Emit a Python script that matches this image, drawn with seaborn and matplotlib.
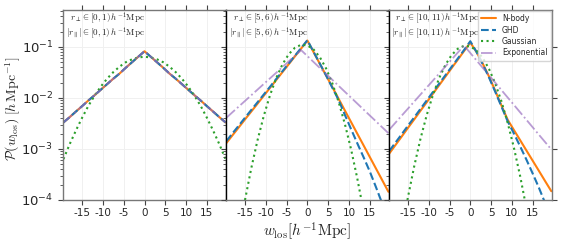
import matplotlib

matplotlib.use('Agg')
import matplotlib.pyplot as plt
import seaborn as sns
import numpy as np
from matplotlib.ticker import LogLocator, NullFormatter

# line-of-sight velocity bins (h^-1 Mpc), shared by every panel
W_LOS = [-19.5, -18.0, -16.5, -15.0, -13.5, -12.0, -10.5, -9.0, -7.5, -6.0, -4.5, -3.0, -1.5,
         0.0, 1.5, 3.0, 4.5, 6.0, 7.5, 9.0, 10.5, 12.0, 13.5, 15.0, 16.5, 18.0, 19.5]

# panel 1: r_perp in [0,1), |r_par| in [0,1)  (N-body, GHD and exponential overlap)
P1_NBODY = [0.0033, 0.0042, 0.0054, 0.0069, 0.0089, 0.0113, 0.0145, 0.0186, 0.0238, 0.030, 0.039, 0.050, 0.064,
            0.082, 0.064, 0.050, 0.039, 0.030, 0.0238, 0.0186, 0.0145, 0.0113, 0.0089, 0.0069, 0.0054, 0.0042, 0.0033]
P1_GHD = list(P1_NBODY)
P1_EXP = list(P1_NBODY)
P1_GAUSS = [0.00063, 0.00124, 0.0023, 0.0041, 0.0070, 0.0111, 0.0167, 0.0238, 0.032, 0.041, 0.050, 0.057, 0.062,
            0.064, 0.062, 0.057, 0.050, 0.041, 0.032, 0.0238, 0.0167, 0.0111, 0.0070, 0.0041, 0.0023, 0.00124, 0.00063]

# panel 2: r_perp in [5,6), |r_par| in [5,6)
P2_NBODY = [0.00130, 0.00186, 0.00265, 0.0038, 0.0054, 0.0077, 0.0110, 0.0157, 0.0224, 0.0320, 0.0456, 0.0652, 0.0929,
            0.133, 0.0785, 0.0465, 0.0275, 0.0163, 0.00962, 0.00569, 0.00337, 0.00199, 0.00118, 6.97e-4, 4.12e-4,
            2.44e-4, 1.44e-4]
P2_GHD = [0.00142, 0.00203, 0.00287, 0.0041, 0.0058, 0.0082, 0.01165, 0.0165, 0.0235, 0.0333, 0.0472, 0.0671, 0.0950,
          0.135, 0.0794, 0.0468, 0.0275, 0.0158, 0.00912, 0.00468, 0.00245, 0.00129, 6.92e-4, 3.63e-4, 1.78e-4,
          8.5e-5, 4.0e-5]
P2_GAUSS = [5.5e-7, 3.6e-6, 2.1e-5, 1.01e-4, 4.2e-4, 0.00148, 0.00442, 0.01127, 0.0245, 0.0454, 0.0716, 0.0962, 0.110,
            0.107, 0.0887, 0.0627, 0.0377, 0.0193, 0.00841, 0.00312, 9.9e-4, 2.65e-4, 6.1e-5, 1.2e-5, 2.0e-6,
            2.8e-7, 3.4e-8]
P2_EXP = [0.00407, 0.00526, 0.00678, 0.00873, 0.01127, 0.01452, 0.01875, 0.02415, 0.0311, 0.0402, 0.0518, 0.0668,
          0.0861, 0.0659, 0.0504, 0.0385, 0.0295, 0.0226, 0.01726, 0.01321, 0.01012, 0.00774, 0.00592, 0.00453,
          0.00347, 0.00265, 0.00203]

# panel 3: r_perp in [10,11), |r_par| in [10,11)
P3_NBODY = [8.11e-4, 0.00119, 0.00175, 0.00258, 0.00378, 0.00557, 0.00818, 0.01205, 0.0177, 0.0260, 0.0383, 0.0562,
            0.0828, 0.1216, 0.0794, 0.0468, 0.0263, 0.0138, 0.00708, 0.00372, 0.00234, 0.00148, 9.33e-4, 5.89e-4,
            3.72e-4, 2.34e-4, 1.48e-4]
P3_GHD = [9.10e-4, 0.00133, 0.00194, 0.00285, 0.00414, 0.00607, 0.00887, 0.0130, 0.0190, 0.0277, 0.0406, 0.0592,
          0.0867, 0.129, 0.0794, 0.0457, 0.0251, 0.0132, 0.00676, 0.00347, 0.00200, 0.00112, 6.17e-4, 3.31e-4,
          1.74e-4, 8.7e-5, 4.27e-5]
P3_GAUSS = [6.9e-7, 4.5e-6, 2.4e-5, 1.13e-4, 4.55e-4, 0.00156, 0.00455, 0.01135, 0.0243, 0.0443, 0.0690, 0.0920, 0.105,
            0.102, 0.0851, 0.0607, 0.0369, 0.0192, 0.00851, 0.00324, 0.00105, 2.92e-4, 6.9e-5, 1.4e-5, 2.4e-6,
            3.6e-7, 4.6e-8]
P3_EXP = [0.00238, 0.00327, 0.00449, 0.00615, 0.00845, 0.01159, 0.01592, 0.0218, 0.0299, 0.0411, 0.0564, 0.0774,
          0.1062, 0.0759, 0.0543, 0.0388, 0.0278, 0.0199, 0.0142, 0.01016, 0.00728, 0.0052, 0.00372, 0.00266,
          0.0019, 0.00136, 9.75e-4]

PANEL_BINS = ['[0,1)', '[5,6)', '[10,11)']
MODEL_NAMES = ['N-body', 'GHD', 'Gaussian', 'Exponential']
X_TICKS = [-15, -10, -5, 0, 5, 10, 15]


def setup_plotting():
    sns.set_style("ticks")
    plt.rcParams['font.family'] = ['DejaVu Sans']
    plt.rcParams['axes.unicode_minus'] = False
    plt.rcParams['mathtext.fontset'] = 'dejavusans'
    plt.ioff()


def main():
    setup_plotting()

    panels = [
        [P1_NBODY, P1_GHD, P1_GAUSS, P1_EXP],
        [P2_NBODY, P2_GHD, P2_GAUSS, P2_EXP],
        [P3_NBODY, P3_GHD, P3_GAUSS, P3_EXP],
    ]
    styles = {
        'N-body': dict(color='#ff7f0e', linestyle='-', linewidth=1.5, alpha=1.0),
        'GHD': dict(color='#1f77b4', linestyle='--', linewidth=1.5, alpha=1.0),
        'Gaussian': dict(color='#2ca02c', linestyle=':', linewidth=1.5, alpha=1.0),
        'Exponential': dict(color='#9467bd', linestyle='-.', linewidth=1.3, alpha=0.65),
    }
    # right edge of the bin annotation in axes fraction
    text_x = [0.503, 0.503, 0.552]

    fig, axes = plt.subplots(1, 3, figsize=(5.63, 2.48), dpi=100, sharey=True)
    fig.subplots_adjust(left=0.112, right=0.980, bottom=0.194, top=0.960, wspace=0)

    for i, ax in enumerate(axes):
        for name, values in zip(MODEL_NAMES, panels[i]):
            sns.lineplot(x=W_LOS, y=values, ax=ax, label=name, **styles[name])

        ax.set_yscale('log')
        ax.set_xlim(-19.6, 19.6)
        ax.set_ylim(1e-4, 0.53)
        ax.set_xticks(X_TICKS)
        ax.set_xticklabels([str(t) for t in X_TICKS], fontsize=7.5)
        ax.yaxis.set_major_locator(LogLocator(base=10, numticks=10))
        ax.yaxis.set_minor_locator(LogLocator(base=10, subs=np.arange(2, 10), numticks=20))
        ax.yaxis.set_minor_formatter(NullFormatter())
        ax.grid(True, which='major', color='#f0f0f0', linewidth=0.7)
        ax.set_axisbelow(True)

        ax.tick_params(axis='x', which='major', top=True, bottom=True, direction='out',
                       length=3.5, width=0.8, color='#444444', pad=2)
        ax.tick_params(axis='y', which='major', left=True, direction='out', length=3.5, width=0.8,
                       labelsize=9.5, color='#444444')
        ax.tick_params(axis='y', which='minor', left=True, direction='out', length=2, width=0.6,
                       color='#444444')
        for side in ['top', 'bottom', 'left', 'right']:
            ax.spines[side].set_visible(True)
            ax.spines[side].set_color('#777777')
            ax.spines[side].set_linewidth(1.0)
        if i > 0:
            ax.spines['left'].set_color('black')
            ax.tick_params(axis='y', which='both', labelleft=False)

        # bin annotation, two lines, right aligned
        b = PANEL_BINS[i]
        ax.text(text_x[i], 0.958, r'$r_\perp \in ' + b + r'\,h^{-1}\mathrm{Mpc}$',
                transform=ax.transAxes, ha='right', va='center', fontsize=6.5, math_fontfamily='cm')
        ax.text(text_x[i], 0.880, r'$|r_\parallel| \in ' + b + r'\,h^{-1}\mathrm{Mpc}$',
                transform=ax.transAxes, ha='right', va='center', fontsize=6.5, math_fontfamily='cm')

        if i < 2:
            ax.get_legend().remove()

    axes[2].tick_params(axis='y', which='major', right=True, direction='out', length=3.5)
    leg = axes[2].legend(loc='upper right', fontsize=5.5, frameon=True, borderaxespad=0.1,
                         handlelength=1.9, labelspacing=0.32, borderpad=0.45)
    leg.get_frame().set_edgecolor('#cccccc')

    axes[1].set_xlabel(r'$w_{\rm los} [h^{-1}\mathrm{Mpc}]$', fontsize=11, math_fontfamily='cm', labelpad=2)
    axes[0].set_ylabel(r'$\mathcal{P}(w_{\rm los})\;[h\,\mathrm{Mpc}^{-1}]$', fontsize=10,
                       math_fontfamily='cm')
    axes[0].yaxis.set_label_coords(-0.245, 0.48)

    fig.savefig('out.png', dpi=100)
    plt.close(fig)


if __name__ == "__main__":
    main()
